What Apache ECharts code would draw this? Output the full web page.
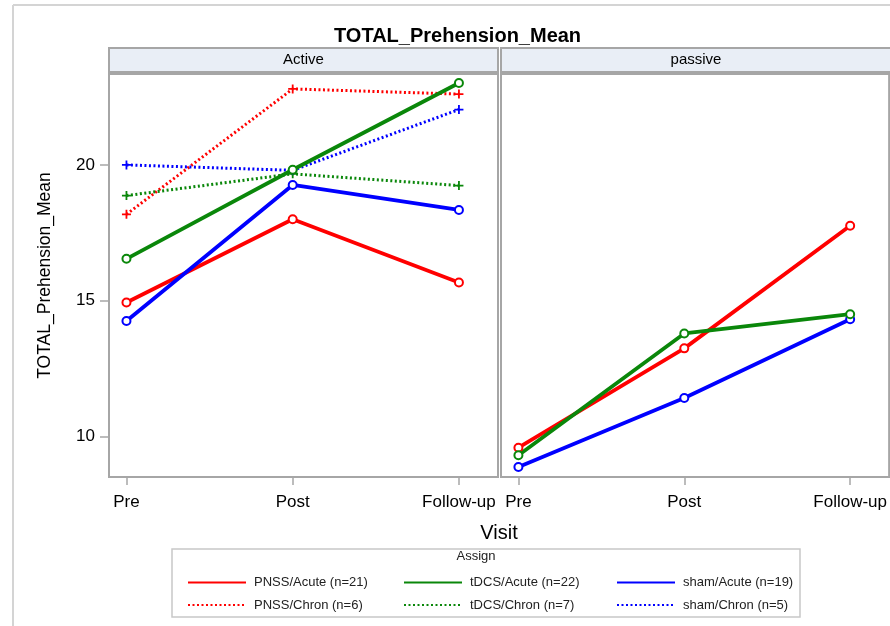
<!DOCTYPE html>
<html>
<head>
<meta charset="utf-8">
<script src="https://cdn.jsdelivr.net/npm/echarts@6/dist/echarts.min.js"></script>
<style>
html,body{margin:0;padding:0;background:#fff;}
#chart{width:890px;height:626px;}
</style>
</head>
<body>
<div id="chart"></div>
<script>
// ---- data ----
var visits = ['Pre', 'Post', 'Follow-up'];
var panels = ['Active', 'passive'];
var seriesNames = ['PNSS/Acute (n=21)', 'tDCS/Acute (n=22)', 'sham/Acute (n=19)',
                   'PNSS/Chron (n=6)', 'tDCS/Chron (n=7)', 'sham/Chron (n=5)'];
var yTicks = [10, 15, 20];

// Active panel
var pnssAcuteActive = [14.93, 18.0, 15.67];
var tdcsAcuteActive = [16.54, 19.82, 23.02];
var shamAcuteActive = [14.25, 19.26, 18.34];
var pnssChronActive = [18.18, 22.8, 22.61];
var tdcsChronActive = [18.87, 19.67, 19.24];
var shamChronActive = [20.0, 19.8, 22.04];
// passive panel
var pnssAcutePassive = [9.58, 13.24, 17.76];
var tdcsAcutePassive = [9.30, 13.79, 14.50];
var shamAcutePassive = [8.87, 11.41, 14.31];

// ---- styling ----
var FONT = '"Liberation Sans", Arial, sans-serif';
var RED = '#ff0000', GREEN = '#0a870a', BLUE = '#0000ff';
var GRAY = '#a6a6a6';
var PLUS = 'path://M4,0h2v4h4v2h-4v4h-2v-4h-4v-2h4z';

function toPts(arr) { return arr.map(function (v, i) { return [i, v]; }); }

function mkSeries(name, values, color, chron, panel) {
  return {
    type: 'line',
    name: name,
    xAxisIndex: panel,
    yAxisIndex: panel,
    data: toPts(values),
    symbol: chron ? PLUS : 'emptyCircle',
    symbolSize: chron ? 9 : 8,
    showAllSymbol: true,
    itemStyle: { color: color, borderWidth: 1 },
    lineStyle: chron ? { color: color, width: 3, type: [2, 2.5] } : { color: color, width: 3.8 },
    emphasis: { disabled: true },
    animation: false
  };
}

var series = [
  mkSeries(seriesNames[0], pnssAcuteActive, RED, false, 0),
  mkSeries(seriesNames[3], pnssChronActive, RED, true, 0),
  mkSeries(seriesNames[4], tdcsChronActive, GREEN, true, 0),
  mkSeries(seriesNames[5], shamChronActive, BLUE, true, 0),
  mkSeries(seriesNames[2], shamAcuteActive, BLUE, false, 0),
  mkSeries(seriesNames[1], tdcsAcuteActive, GREEN, false, 0),
  mkSeries(seriesNames[2], shamAcutePassive, BLUE, false, 1),
  mkSeries(seriesNames[0], pnssAcutePassive, RED, false, 1),
  mkSeries(seriesNames[1], tdcsAcutePassive, GREEN, false, 1)
];

var gridTop = 74, gridH = 403;
var grids = [
  { left: 109, top: gridTop, width: 389, height: gridH, show: true, borderColor: GRAY, borderWidth: 2, backgroundColor: '#fff' },
  { left: 501, top: gridTop, width: 391, height: gridH, show: true, borderColor: GRAY, borderWidth: 2, backgroundColor: '#fff' }
];

function mkX(idx) {
  return {
    type: 'value', gridIndex: idx, min: -0.105, max: 2.235,
    axisLine: { show: false, onZero: false },
    splitLine: { show: false },
    axisTick: { show: true, customValues: [0, 1, 2], length: 8, lineStyle: { color: GRAY, width: 1.5 } },
    axisLabel: {
      show: true, customValues: [0, 1, 2], margin: 17,
      formatter: function (v) { return visits[Math.round(v)]; },
      color: '#000', fontSize: 17, fontFamily: FONT
    },
    name: idx === 0 ? 'Visit' : '',
    nameLocation: 'middle',
    nameGap: 46,
    nameTextStyle: { color: '#000', fontSize: 20, fontFamily: FONT, padding: [0, 0, 0, 391] }
  };
}
function mkY(idx) {
  return {
    type: 'value', gridIndex: idx, min: 8.5, max: 23.35,
    axisLine: { show: false, onZero: false },
    splitLine: { show: false },
    axisTick: { show: idx === 0, customValues: yTicks, length: 9, lineStyle: { color: GRAY, width: 1.5 } },
    axisLabel: { show: idx === 0, customValues: yTicks, margin: 14, color: '#000', fontSize: 17, fontFamily: FONT },
    name: idx === 0 ? 'TOTAL_Prehension_Mean' : '',
    nameLocation: 'middle',
    nameGap: 55,
    nameTextStyle: { color: '#000', fontSize: 17.5, fontFamily: FONT }
  };
}

function mkLegend(left, names) {
  return {
    orient: 'vertical',
    left: left, top: 571,
    itemWidth: 58, itemHeight: 14, itemGap: 9.4,
    data: names,
    selectedMode: false,
    itemStyle: { opacity: 0 },
    lineStyle: { width: 2 },
    textStyle: { color: '#222', fontSize: 13, fontFamily: FONT, padding: [0, 0, 0, 3] }
  };
}

var option = {
  backgroundColor: '#fff',
  animation: false,
  title: {
    text: 'TOTAL_Prehension_Mean',
    left: 329, top: 21,
    textStyle: { color: '#000', fontSize: 20, fontWeight: 'bold', fontFamily: FONT }
  },
  grid: grids,
  xAxis: [mkX(0), mkX(1)],
  yAxis: [mkY(0), mkY(1)],
  legend: [
    mkLegend(182, [seriesNames[0], seriesNames[3]]),
    mkLegend(398, [seriesNames[1], seriesNames[4]]),
    mkLegend(611, [seriesNames[2], seriesNames[5]])
  ],
  graphic: [
    // outer frame
    { type: 'line', shape: { x1: 13, y1: 5, x2: 890, y2: 5 }, style: { stroke: '#d4d4d4', lineWidth: 2 }, silent: true },
    { type: 'line', shape: { x1: 13, y1: 5, x2: 13, y2: 626 }, style: { stroke: '#d4d4d4', lineWidth: 2 }, silent: true },
    // panel headers
    { type: 'rect', shape: { x: 109, y: 48, width: 389, height: 24 }, style: { fill: '#e9eef6', stroke: GRAY, lineWidth: 2 }, silent: true },
    { type: 'rect', shape: { x: 501, y: 48, width: 391, height: 24 }, style: { fill: '#e9eef6', stroke: GRAY, lineWidth: 2 }, silent: true },
    { type: 'text', x: 303.5, y: 60, style: { text: panels[0], fill: '#000', font: '15px "Liberation Sans", Arial, sans-serif', textAlign: 'center', textVerticalAlign: 'middle' }, silent: true },
    { type: 'text', x: 696, y: 60, style: { text: panels[1], fill: '#000', font: '15px "Liberation Sans", Arial, sans-serif', textAlign: 'center', textVerticalAlign: 'middle' }, silent: true },
    // legend box + title
    { type: 'rect', shape: { x: 172, y: 549, width: 628, height: 68 }, style: { fill: 'none', stroke: '#c8c8c8', lineWidth: 1.5 }, silent: true, z: -1 },
    { type: 'text', x: 476, y: 556, style: { text: 'Assign', fill: '#222', font: '13px "Liberation Sans", Arial, sans-serif', textAlign: 'center', textVerticalAlign: 'middle' }, silent: true }
  ],
  series: series
};

var chart = echarts.init(document.getElementById('chart'), null, { renderer: 'canvas' });
chart.setOption(option);
</script>
</body>
</html>
